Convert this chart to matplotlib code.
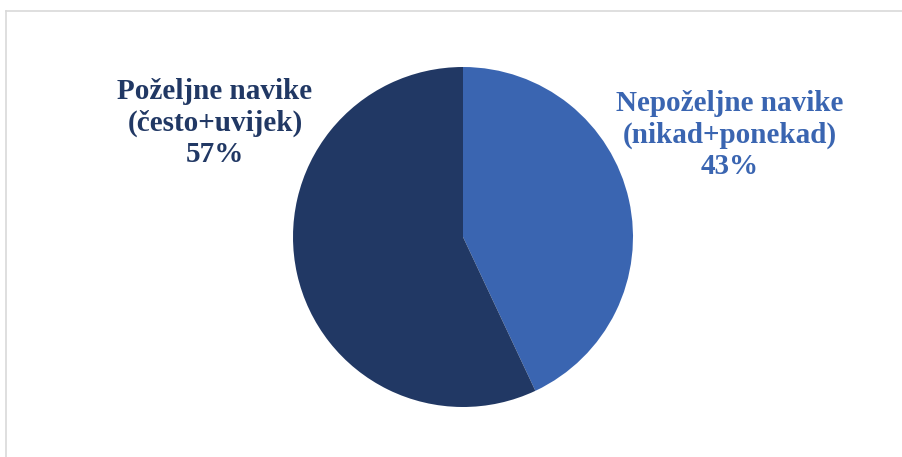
import matplotlib
matplotlib.use("Agg")
import matplotlib.pyplot as plt
from matplotlib.lines import Line2D

categories = ["Nepoželjne navike\n(nikad+ponekad)", "Poželjne navike\n(često+uvijek)"]
values = [43, 57]
colors = ["#3A65B1", "#213864"]

W, H = 903, 457
fig = plt.figure(figsize=(W / 100, H / 100), dpi=100)
fig.patch.set_facecolor("white")
ax = fig.add_axes([0, 0, 1, 1])

wedges, _ = ax.pie(values, colors=colors, startangle=90, counterclock=False,
                   center=(463, H - 237), radius=170,
                   wedgeprops=dict(linewidth=0))
ax.set_xlim(0, W)
ax.set_ylim(0, H)
ax.set_aspect("equal")
ax.set_axis_off()

# labels
label_pos = [(730, H - 135), (215, H - 123)]
for cat, val, col, (x, y) in zip(categories, values, colors, label_pos):
    ax.text(x, y, f"{cat}\n{val}%", ha="center", va="center", color=col,
            fontsize=21, fontweight="bold", family="Liberation Serif",
            linespacing=1.22)

# chart border
fig.add_artist(Line2D([5.5 / W, 1], [1 - 10.5 / H, 1 - 10.5 / H],
                      transform=fig.transFigure, color="#d9d9d9", lw=1.2))
fig.add_artist(Line2D([5.5 / W, 5.5 / W], [0, 1 - 10.5 / H],
                      transform=fig.transFigure, color="#d9d9d9", lw=1.2))

fig.savefig("out.png", dpi=100, facecolor="white")
